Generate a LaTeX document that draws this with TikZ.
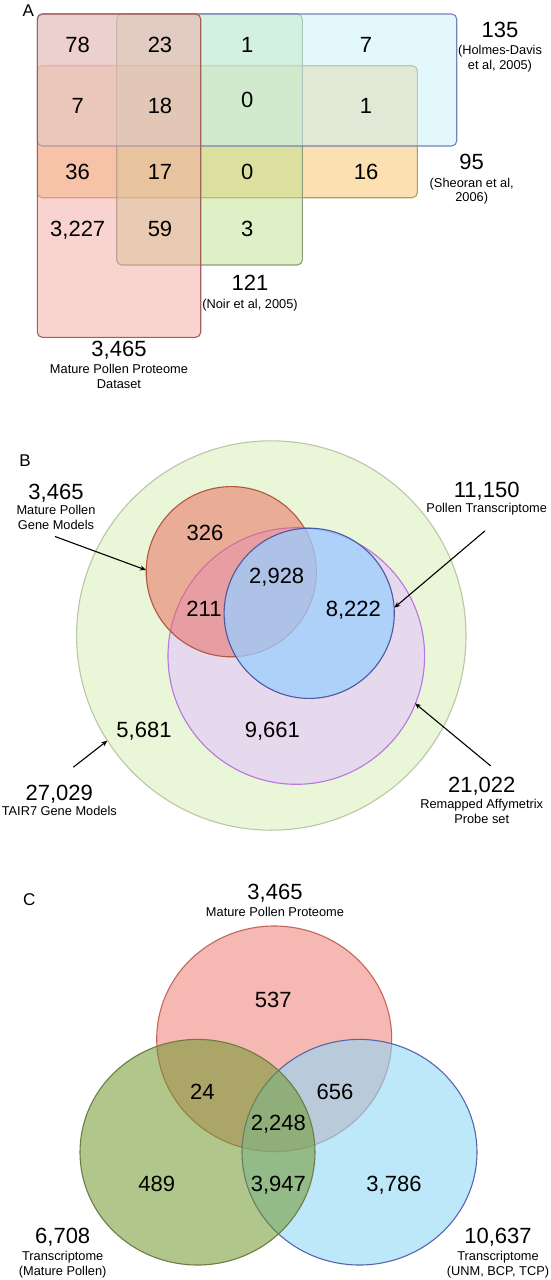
\documentclass[tikz,border=0pt]{standalone}
\usepackage{fontspec}
\setmainfont{Liberation Sans}
\usetikzlibrary{arrows.meta,positioning}
\definecolor{OrangeFill}{HTML}{F9C165}
\definecolor{OrangeLine}{HTML}{B39868}
\definecolor{MossFill}{HTML}{BDE18D}
\definecolor{MossLine}{HTML}{8C9C7A}
\definecolor{RoseFill}{HTML}{F3A79F}
\definecolor{RoseLine}{HTML}{A65E58}
\definecolor{SkyFill}{HTML}{C8F2FC}
\definecolor{SkyLine}{HTML}{7383B5}
\definecolor{LimeFill}{HTML}{E9F6D8}
\definecolor{LimeLine}{HTML}{BAC6A6}
\definecolor{BrickFill}{HTML}{E96658}
\definecolor{BrickLine}{HTML}{B4563E}
\definecolor{LilacFill}{HTML}{E6CCF6}
\definecolor{LilacLine}{HTML}{B975E2}
\definecolor{AzureFill}{HTML}{9CCFFF}
\definecolor{AzureLine}{HTML}{4C58A3}
\definecolor{SalmonFill}{HTML}{F6B8B2}
\definecolor{SalmonLine}{HTML}{C2675A}
\definecolor{CyanFill}{HTML}{91D9F7}
\definecolor{CyanLine}{HTML}{5566AE}
\definecolor{OliveFill}{HTML}{6F972A}
\definecolor{OliveLine}{HTML}{6C7C45}
\tikzset{
  num/.style={
    font=\fontsize{22}{26}\selectfont, inner sep=0pt,
    text height=15.8pt, text depth=0pt
  },
  subtext/.style={
    font=\fontsize{12.8}{14.8}\selectfont, align=center, inner sep=0pt
  },
  panel/.style={
    font=\fontsize{17}{20}\selectfont, inner sep=0pt,
    text height=12.2pt, text depth=0pt
  },
  setbox/.style={rounded corners=5pt, line width=1.1pt},
  setring/.style={line width=1.1pt},
  ptr/.style={-{Stealth[length=6pt,width=5pt]}, line width=1.1pt, draw=black}
}

\begin{document}
\begin{tikzpicture}[x=1pt,y=-1pt,node distance=7.9pt]
  \useasboundingbox (0,0) rectangle (551,1280);

  % A
  \draw[setbox, draw=OrangeLine, fill=OrangeFill, fill opacity=.5] (37.3,65.7) rectangle (417.3,197.7);
  \draw[setbox, draw=MossLine, fill=MossFill, fill opacity=.5] (116.7,14) rectangle (302.3,265);
  \draw[setbox, draw=SkyLine, fill=SkyFill, fill opacity=.5] (37.3,14) rectangle (456.7,146);
  \draw[setbox, draw=RoseLine, fill=RoseFill, fill opacity=.5] (37.3,14) rectangle (200.7,337.3);
  \node[panel] (pa) at (28.3,10) {A};
  \node[num] (a78) at (77.7,44.3) {78};
  \node[num] (a23) at (160,44.3) {23};
  \node[num] (a1) at (247.3,44.3) {1};
  \node[num] (a7) at (366,44.3) {7};
  \node[num] (b7) at (77.7,106) {7};
  \node[num] (b18) at (160,106) {18};
  \node[num] (b0) at (247.3,100) {0};
  \node[num] (b1) at (366,106) {1};
  \node[num] (c36) at (77.7,171.7) {36};
  \node[num] (c17) at (160,171.7) {17};
  \node[num] (c0) at (247.3,171.7) {0};
  \node[num] (c16) at (366,171.7) {16};
  \node[num] (d3227) at (77.7,229) {3,227};
  \node[num] (d59) at (160,229) {59};
  \node[num] (d3) at (247.3,229) {3};
  \node[num] (n135) at (500,29.3) {135};
  \node[subtext, below=of n135] (c135) {(Holmes-Davis\\et al, 2005)};
  \node[num] (n95) at (471.7,161.7) {95};
  \node[subtext, below=of n95] (c95) {(Sheoran et al,\\2006)};
  \node[num] (n121) at (250,282.7) {121};
  \node[subtext, below=of n121] (c121) {(Noir et al, 2005)};
  \node[num] (nprot) at (119,348.3) {3,465};
  \node[subtext, below=of nprot] (cprot) {Mature Pollen Proteome\\Dataset};

  % B
  \draw[setring, draw=LimeLine, fill=LimeFill] (271.3,635.5) circle [radius=194.7pt];
  \draw[setring, draw=LilacLine, fill=LilacFill, fill opacity=.7] (296.3,656) circle [radius=128.3pt];
  \draw[setring, draw=BrickLine, fill=BrickFill, fill opacity=.5] (231.3,571.7) circle [radius=85.1pt];
  \draw[setring, draw=AzureLine, fill=AzureFill, fill opacity=.75] (309.2,613.3) circle [radius=85.1pt];
  \node[panel] (pb) at (25,460.7) {B};
  \node[num] (r326) at (205,532.3) {326};
  \node[num] (r2928) at (276.7,575.7) {2,928};
  \node[num] (r211) at (204,609) {211};
  \node[num] (r8222) at (353.3,609) {8,222};
  \node[num] (r5681) at (144,729.3) {5,681};
  \node[num] (r9661) at (272.3,729.3) {9,661};
  \node[num] (ngm) at (56,491.7) {3,465};
  \node[subtext, below=5.7pt of ngm] (cgm) {Mature Pollen\\Gene Models};
  \node[num] (npt) at (486.7,489.3) {11,150};
  \node[subtext, below=5.7pt of npt] (cpt) {Pollen Transcriptome};
  \node[num] (ntair) at (59.3,792.3) {27,029};
  \node[subtext, below=5.7pt of ntair] (ctair) {TAIR7 Gene Models};
  \node[num] (naffy) at (481.7,785) {21,022};
  \node[subtext, below=5.7pt of naffy] (caffy) {Remapped Affymetrix\\Probe set};
  \coordinate (tgm) at (146,570);
  \coordinate (tpt) at (394.3,607.7);
  \coordinate (ttair) at (107.3,740.7);
  \coordinate (taffy) at (415,703.3);
  \draw[ptr] ([xshift=-1pt,yshift=-6.4pt]cgm.south) -- (tgm);
  \draw[ptr] ([xshift=-1.7pt,yshift=-15.4pt]cpt.south) -- (tpt);
  \draw[ptr] ([xshift=14pt,yshift=17pt]ntair.north) -- (ttair);
  \draw[ptr] ([xshift=9pt,yshift=11pt]naffy.north) -- (taffy);

  % C
  \draw[setring, draw=SalmonLine, fill=SalmonFill] (274.2,1038.8) ellipse [x radius=117.5pt, y radius=112.8pt];
  \draw[setring, draw=CyanLine, fill=CyanFill, fill opacity=.6] (359.5,1152.2) ellipse [x radius=117.5pt, y radius=112.8pt];
  \draw[setring, draw=OliveLine, fill=OliveFill, fill opacity=.55] (197.5,1152.2) ellipse [x radius=117.5pt, y radius=112.8pt];
  \node[panel] (pc) at (29.3,899.3) {C};
  \node[num] (v537) at (273.3,1000) {537};
  \node[num] (v24) at (202.3,1091.7) {24};
  \node[num] (v656) at (335,1091.7) {656};
  \node[num] (v2248) at (278.3,1122.3) {2,248};
  \node[num] (v489) at (156.7,1183.3) {489};
  \node[num] (v3947) at (278.3,1183.3) {3,947};
  \node[num] (v3786) at (394,1183.3) {3,786};
  \node[num] (nmpp) at (275,891.7) {3,465};
  \node[subtext, below=7.4pt of nmpp] (cmpp) {Mature Pollen Proteome};
  \node[num] (nmat) at (62.7,1236) {6,708};
  \node[subtext, below=7.4pt of nmat] (cmat) {Transcriptome\\(Mature Pollen)};
  \node[num] (nubt) at (498,1235.5) {10,637};
  \node[subtext, below=7.4pt of nubt] (cubt) {Transcriptome\\(UNM, BCP, TCP)};
\end{tikzpicture}
\end{document}
